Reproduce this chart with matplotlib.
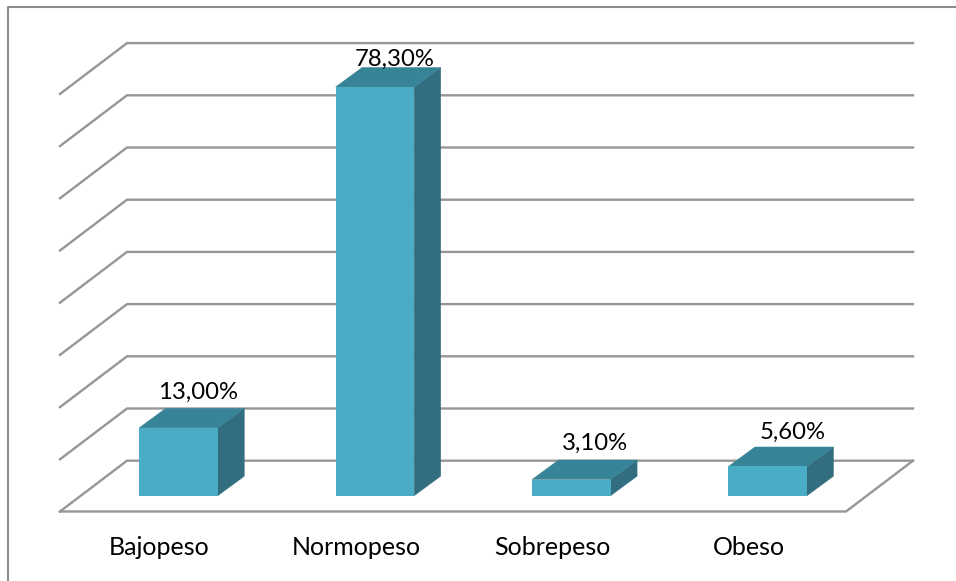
import matplotlib.pyplot as plt
from matplotlib.patches import Polygon, Rectangle

categories = ["Bajopeso", "Normopeso", "Sobrepeso", "Obeso"]
values = [13.0, 78.3, 3.1, 5.6]
value_labels = ["13,00%", "78,30%", "3,10%", "5,60%"]
grid_levels = [0, 10, 20, 30, 40, 50, 60, 70, 80]

plt.rcParams['font.family'] = ['Lato', 'DejaVu Sans']

# pixel scale of the picture
W, H = 956, 581
px_cat = 196.4      # pixels per category
px_val = 5.22       # pixels per percent
x0_px = 178.5       # centre of first bar
y0_px = 495.7       # bar base

fig = plt.figure(figsize=(W / 100, H / 100), dpi=100)
ax = fig.add_axes([0, 0, 1, 1])
ax.set_xlim(-x0_px / px_cat, (W - x0_px) / px_cat)
ax.set_ylim((y0_px - H) / px_val, y0_px / px_val)
ax.axis("off")

# depth of the 3d box, in data units
bar_w = 78.6 / px_cat
dx = 26.5 / px_cat
dy = 19.5 / px_val

# floor and walls
grid_col = "#969696"
x_left = (60 - x0_px) / px_cat
x_back = (127 - x0_px) / px_cat
x_end = (913 - x0_px) / px_cat
x_front_end = (846 - x0_px) / px_cat
y_floor_front = (y0_px - 511.5) / px_val
y_floor_back = (y0_px - 460.7) / px_val

for g in grid_levels:
    yb = y_floor_back + g
    yf = y_floor_front + g
    ax.plot([x_left, x_back, x_end], [yf, yb, yb], color=grid_col, lw=1.7, zorder=1,
            solid_joinstyle="miter")
ax.plot([x_left, x_front_end, x_end], [y_floor_front, y_floor_front, y_floor_back],
        color=grid_col, lw=1.7, zorder=1, solid_joinstyle="miter")

# labels are not placed the same way on every bar in the original
nudge_x = [0.1, 0.1, 0.122, 0.125]
nudge_y = [0.75, -0.85, 0.8, 0.4]

for i, v in enumerate(values):
    l = i - bar_w / 2
    r = i + bar_w / 2
    ax.add_patch(Polygon([(r, 0), (r + dx, dy), (r + dx, v + dy), (r, v)],
                         facecolor="#326D80", edgecolor="#326D80", lw=0.3, zorder=2))
    ax.add_patch(Polygon([(l, v), (r, v), (r + dx, v + dy), (l + dx, v + dy)],
                         facecolor="#378397", edgecolor="#378397", lw=0.3, zorder=2))
    ax.add_patch(Rectangle((l, 0), bar_w, v, facecolor="#4BACC6", edgecolor="none", zorder=3))
    ax.text(i + nudge_x[i], v + dy + 0.35 + nudge_y[i], value_labels[i], ha="center", va="bottom",
            fontsize=17.2, color="black", zorder=4)
    ax.text(i - 0.097, -9.9, categories[i], ha="center", va="center", fontsize=18, color="black")

# chart border, top and left only
fig.add_artist(plt.Line2D([7.5 / W, 7.5 / W, 1], [0, 1 - 7 / H, 1 - 7 / H], color="#8c8c8c", lw=1.5))

fig.savefig("out.png", dpi=100)
